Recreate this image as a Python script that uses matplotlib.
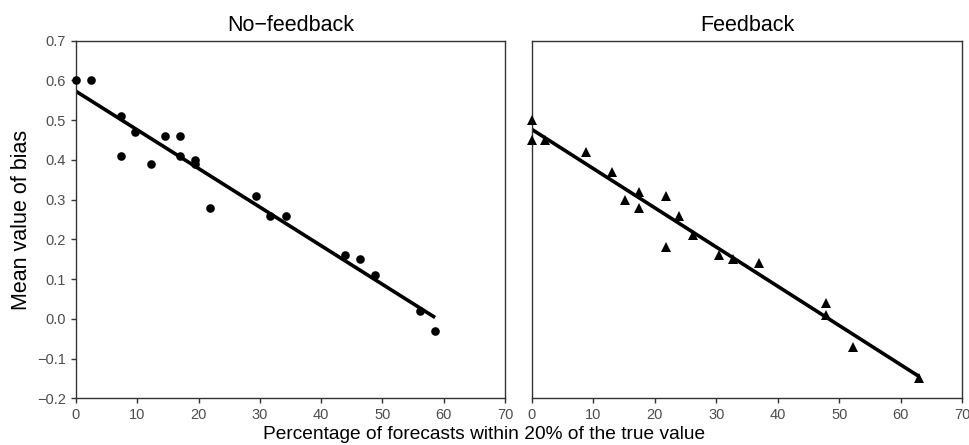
import numpy as np
import matplotlib
matplotlib.use("Agg")
import matplotlib.pyplot as plt

plt.rcParams['font.family'] = ['Liberation Sans', 'DejaVu Sans']

# No-feedback panel (circles)
nf_x = [0.0, 2.4, 7.3, 7.3, 9.7, 12.2, 14.6, 17.0, 17.0, 19.5, 19.5, 21.9,
        29.3, 31.7, 34.2, 43.9, 46.4, 48.8, 56.1, 58.6]
nf_y = [0.60, 0.60, 0.51, 0.41, 0.47, 0.39, 0.46, 0.46, 0.41, 0.40, 0.39, 0.28,
        0.31, 0.26, 0.26, 0.16, 0.15, 0.11, 0.02, -0.03]

# Feedback panel (triangles)
fb_x = [0.0, 0.0, 2.1, 8.8, 13.1, 15.2, 17.4, 17.4, 21.8, 21.8, 23.9, 26.2,
        30.4, 32.7, 37.0, 47.9, 47.9, 52.2, 63.0]
fb_y = [0.50, 0.45, 0.45, 0.42, 0.37, 0.30, 0.32, 0.28, 0.31, 0.18, 0.26, 0.21,
        0.16, 0.15, 0.14, 0.04, 0.01, -0.07, -0.15]

titles = ["No\u2212feedback", "Feedback"]
xticks = [0, 10, 20, 30, 40, 50, 60, 70]
yticks = [-0.2, -0.1, 0.0, 0.1, 0.2, 0.3, 0.4, 0.5, 0.6, 0.7]

fig = plt.figure(figsize=(9.69, 4.45), dpi=100)
ax1 = fig.add_axes([0.0784, 0.105, 0.4427, 0.8036])
ax2 = fig.add_axes([0.549, 0.105, 0.4438, 0.8036])

spine_col = '#333333'
tick_col = '#4D4D4D'

panels = [(ax1, nf_x, nf_y, 'o', 6.2), (ax2, fb_x, fb_y, '^', 7.5)]
for i, (ax, xs, ys, mk, ms) in enumerate(panels):
    xs_a = np.array(xs)
    ys_a = np.array(ys)
    b, a = np.polyfit(xs_a, ys_a, 1)
    xl = np.array([xs_a.min(), xs_a.max()])
    ax.plot(xl, a + b * xl, color='black', lw=2.6, solid_capstyle='butt', zorder=2)
    ax.plot(xs_a, ys_a, linestyle='none', marker=mk, ms=ms, color='black',
            markeredgewidth=0, zorder=3, clip_on=False)
    ax.set_xlim(0, 70)
    ax.set_ylim(-0.2, 0.7)
    ax.set_xticks(xticks)
    ax.set_yticks(yticks)
    ax.set_yticklabels([f"{v:.1f}".replace('-', '\u2212') for v in yticks])
    for s in ax.spines.values():
        s.set_color(spine_col)
        s.set_linewidth(1.0)
    ax.tick_params(direction='out', length=3.5, width=1.0, color=spine_col,
                   labelcolor=tick_col, labelsize=10.5, pad=3.5)
    ax.set_title(titles[i], fontsize=15.5, color='black', pad=7)

ax2.tick_params(axis='y', left=False, labelleft=False)

fig.text(0.5, 0.005, "Percentage of forecasts within 20% of the true value",
         ha='center', va='bottom', fontsize=13.8, color='black')
fig.text(0.0114, 0.505, "Mean value of bias", rotation=90, ha='left', va='center',
         fontsize=15.5, color='black')

fig.savefig("out.png", dpi=100)
